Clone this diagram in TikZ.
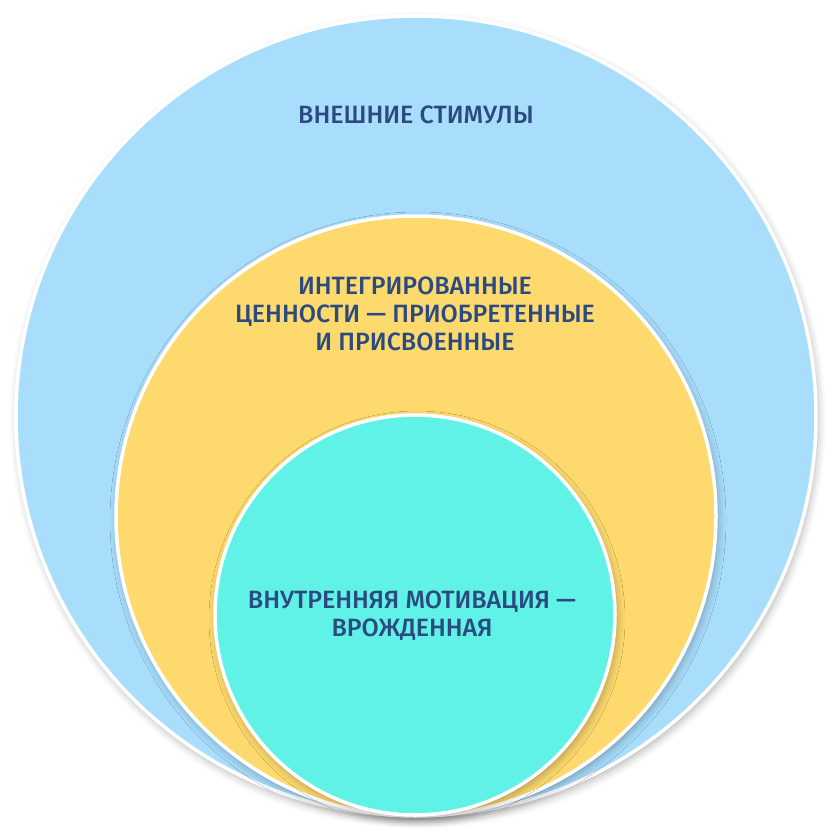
\documentclass[tikz,border=0pt]{standalone}
\usepackage{fontspec}
\setmainfont{Fira Sans}[UprightFont=* Medium]
\usetikzlibrary{shadows.blur}

\definecolor{outerblue}{HTML}{A8DDFC}
\definecolor{midyellow}{HTML}{FDD96E}
\definecolor{innercyan}{HTML}{60F2E6}
\definecolor{labelblue}{HTML}{2B4B80}

\tikzset{
	ring/.style={circle, draw=white, line width=3.5pt, inner sep=0pt,
		blur shadow={shadow xshift=2pt, shadow yshift=-4pt,
			shadow blur radius=8pt, shadow opacity=30}},
	label text/.style={text=labelblue, align=center,
		font=\fontsize{25}{28}\selectfont}
}

\begin{document}
\begin{tikzpicture}[x=1pt, y=-1pt]

	\useasboundingbox (0,0) rectangle (838,838);

	% the three circles, largest first
	\foreach \i / \r / \cx / \cy / \c in {
	1/400/416/416/outerblue,
	2/300/416/516/midyellow,
	3/200/415/615/innercyan}
	{
		\node[ring, fill=\c, minimum size=2*\r pt] (c\i) at (\cx,\cy) {};
	};

	\node[label text] (t1) at (416,114.5) {ВНЕШНИЕ СТИМУЛЫ};
	\node[label text] (t2) at (415,314) {ИНТЕГРИРОВАННЫЕ\\ЦЕННОСТИ — ПРИОБРЕТЕННЫЕ\\И ПРИСВОЕННЫЕ};
	\node[label text] (t3) at (412,615.5) {ВНУТРЕННЯЯ МОТИВАЦИЯ —\\ВРОЖДЕННАЯ};

\end{tikzpicture}
\end{document}
